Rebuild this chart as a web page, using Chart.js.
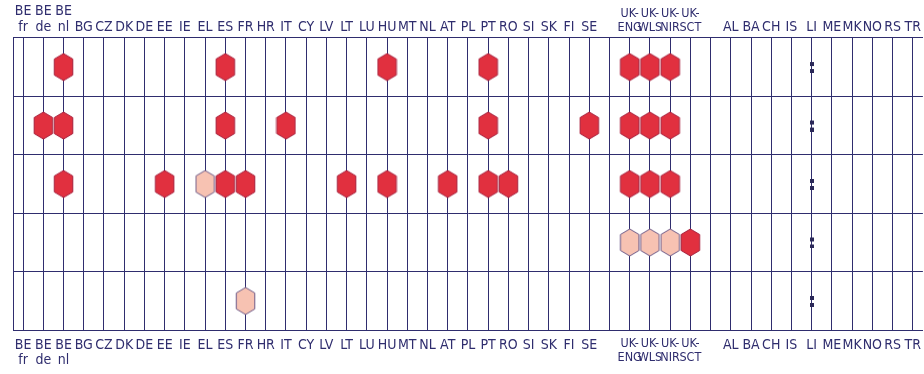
<!DOCTYPE html>
<html>
<head>
<meta charset="utf-8">
<script src="https://cdn.jsdelivr.net/npm/chart.js@4.4.1/dist/chart.umd.min.js"></script>
<style>
  body { margin: 0; background: #fff; }
</style>
</head>
<body>
<canvas id="chart" width="924" height="374"></canvas>
<script>
// columns ('gap…' = empty spacer column)
var countries = ['BE-fr', 'BE-de', 'BE-nl', 'BG', 'CZ', 'DK', 'DE', 'EE', 'IE', 'EL', 'ES', 'FR', 'HR', 'IT', 'CY',
    'LV', 'LT', 'LU', 'HU', 'MT', 'NL', 'AT', 'PL', 'PT', 'RO', 'SI', 'SK', 'FI', 'SE', 'gap1',
    'UK-ENG', 'UK-WLS', 'UK-NIR', 'UK-SCT', 'gap2', 'AL', 'BA', 'CH', 'IS', 'LI', 'ME', 'MK', 'NO', 'RS', 'TR'];

// red hexagons, one list per row
var fullRow1 = ['BE-nl', 'ES', 'HU', 'PT', 'UK-ENG', 'UK-WLS', 'UK-NIR'];
var fullRow2 = ['BE-de', 'BE-nl', 'ES', 'IT', 'PT', 'SE', 'UK-ENG', 'UK-WLS', 'UK-NIR'];
var fullRow3 = ['BE-nl', 'EE', 'ES', 'FR', 'LT', 'HU', 'AT', 'PT', 'RO', 'UK-ENG', 'UK-WLS', 'UK-NIR'];
var fullRow4 = ['UK-SCT'];
var fullRow5 = [];

// light hexagons
var partRow1 = [];
var partRow2 = [];
var partRow3 = ['EL'];
var partRow4 = ['UK-ENG', 'UK-WLS', 'UK-NIR'];
var partRow5 = ['FR'];

// ":" not available
var notAvailable = ['LI'];

var navy = '#2f2d6e';

function labelFor(code) {
    if (code.indexOf('gap') === 0) return '';
    if (code.indexOf('UK-') === 0) return ['UK-', code.slice(3)];
    if (code.indexOf('-') > 0) return code.split('-');
    return code;
}
var tickLabels = countries.map(labelFor);

function points(rowLists) {
    var pts = [];
    rowLists.forEach(function (list, r) {
        list.forEach(function (code) {
            pts.push({ x: code, y: r + 0.5 });
        });
    });
    return pts;
}

function hexagon(fill, stroke) {
    var c = document.createElement('canvas');
    c.width = 21; c.height = 29;
    var g = c.getContext('2d');
    g.beginPath();
    g.moveTo(10.5, 1);
    g.lineTo(19.75, 6.5);
    g.lineTo(19.75, 22.5);
    g.lineTo(10.5, 28);
    g.lineTo(1.25, 22.5);
    g.lineTo(1.25, 6.5);
    g.closePath();
    g.fillStyle = fill;
    g.fill();
    g.lineWidth = 1;
    g.strokeStyle = stroke;
    g.stroke();
    return c;
}

function colon() {
    var c = document.createElement('canvas');
    c.width = 4; c.height = 12;
    var g = c.getContext('2d');
    g.fillStyle = '#2a2858';
    g.fillRect(0, 1, 4, 4);
    g.fillRect(0, 8, 4, 4);
    return c;
}

function tickFont(ctx) {
    var code = countries[ctx.index] || '';
    return {
        family: '"Liberation Sans Narrow", "DejaVu Sans Condensed", sans-serif',
        size: code.indexOf('UK-') === 0 ? 12.5 : 14,
        lineHeight: 1.1
    };
}

function tickText(value, index) {
    return tickLabels[index];
}

new Chart(document.getElementById('chart'), {
    type: 'scatter',
    data: {
        datasets: [
            {
                data: points([fullRow1, fullRow2, fullRow3, fullRow4, fullRow5]),
                pointStyle: hexagon('#e1303f', '#a61f3c')
            },
            {
                data: points([partRow1, partRow2, partRow3, partRow4, partRow5]),
                pointStyle: hexagon('#f7c2b2', '#6d5a88')
            },
            {
                data: points([notAvailable, notAvailable, notAvailable, notAvailable, notAvailable]),
                pointStyle: colon()
            }
        ]
    },
    options: {
        responsive: false,
        animation: false,
        layout: { autoPadding: false, padding: { left: 13, right: 1, top: 1, bottom: 6 } },
        plugins: { legend: { display: false }, tooltip: { enabled: false } },
        scales: {
            x: {
                type: 'category',
                labels: countries,
                offset: true,
                position: 'bottom',
                grid: { offset: false, color: navy, lineWidth: 1, drawTicks: true, tickLength: 7, tickColor: 'rgba(0,0,0,0)' },
                border: { color: navy },
                ticks: { color: navy, font: tickFont, padding: 0, maxRotation: 0, autoSkip: false, callback: tickText }
            },
            x2: {
                type: 'category',
                labels: countries,
                offset: true,
                position: 'top',
                grid: { display: false, drawTicks: false },
                border: { color: navy },
                ticks: { color: navy, font: tickFont, padding: 3, maxRotation: 0, autoSkip: false, callback: tickText }
            },
            y: {
                type: 'linear',
                min: 0,
                max: 5,
                reverse: true,
                grid: { color: navy, lineWidth: 1, drawTicks: false },
                border: { color: navy },
                ticks: { display: false, stepSize: 1 }
            }
        }
    }
});
</script>
</body>
</html>
